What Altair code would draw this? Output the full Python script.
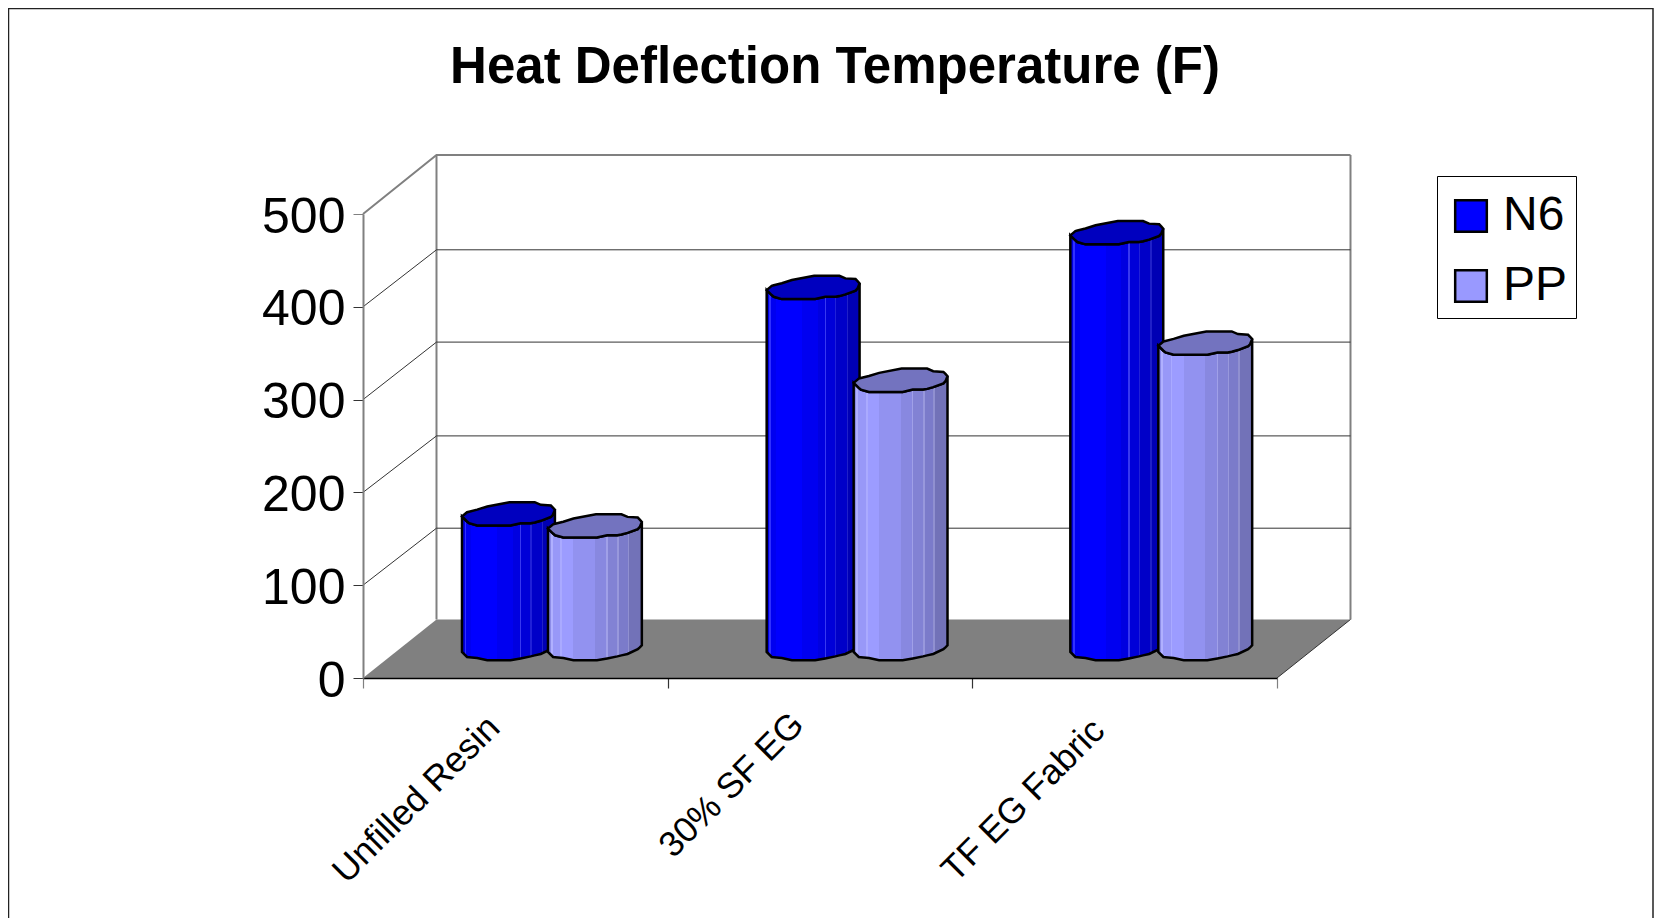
import altair as alt
import pandas as pd

# ---- chart values ----
categories = ["Unfilled Resin", "30% SF EG", "TF EG Fabric"]
n6_values = [146, 390, 449]
pp_values = [133, 290, 330]
series_names = ["N6", "PP"]
series_colors = ["#0000ff", "#9999ff"]
cap_colors = ["#0000bf", "#7373bf"]
y_ticks = [0, 100, 200, 300, 400, 500]

# ---- projection of the pseudo 3D look (pixels per unit, depth shift) ----
PX_X = 304.67
PX_Y = 0.928
DEPTH_X = 73.5 / PX_X
DEPTH_Y = 58.5 / PX_Y
BASE = 26 / PX_Y
FONT = "Liberation Sans"

# ---- cylinder outline, in px from its left corner ----
st = [0, 5, 7, 15, 25, 47, 48, 58, 68, 72, 78, 88, 90, 92]
up = [0, -4.3, -4.8, -6.9, -10, -14.3, -14.3, -14.3, -14.3, -14.3, -11.7, -11, -9, -6.7]
low = [0, 5, 6.7, 9, 9, 9, 9, 6.7, 6.7, 6, 4.3, 0.5, -1.7, -6.7]
bot = [0, 5, 5.2, 6, 8.3, 8.3, 8.3, 6.4, 4.4, 3.4, 2, -2.8, -4.7, -6.7]
left_px = {"N6": [99, 99, 98], "PP": [185, 186, 186]}
width_k = {"N6": 1.01, "PP": 1.02}

rows = []
for s, vals in zip(series_names, [n6_values, pp_values]):
    for c, v in enumerate(vals):
        for a, b, d, e in zip(st, up, low, bot):
            rows.append({
                "series": s,
                "bar": f"{s}{c}",
                "x": c + (left_px[s][c] + a * width_k[s]) / PX_X,
                "cap_hi": v + BASE - b / PX_Y,
                "cap_lo": v + BASE - d / PX_Y,
                "foot": BASE - e / PX_Y,
            })
bars = pd.DataFrame(rows)

xs = alt.Scale(domain=[0, 3], nice=False, zero=False)
ys = alt.Scale(domain=[0, 500], nice=False, zero=False)
x_axis = alt.Axis(
    values=[0, 1, 2, 3], labels=False, grid=False, tickSize=10, zindex=1,
    domainColor="#000000", domainWidth=1.5,
    tickColor=alt.expr("datum.value==0||datum.value==3?'#808080':'#333333'"), tickWidth=1.2)
y_axis = alt.Axis(
    values=y_ticks, grid=False, tickSize=10, zindex=1, labelFont=FONT, labelFontSize=50,
    labelColor="#000000", labelPadding=8, labelOffset=3, domainColor="#808080", domainWidth=2,
    tickColor=alt.expr("datum.value==500?'#808080':'#333333'"), tickWidth=1)


def X(f="x"):
    return alt.X(f"{f}:Q", scale=xs, title=None, axis=x_axis)


def Y(f):
    return alt.Y(f"{f}:Q", scale=ys, title=None, axis=y_axis, stack=None)


# ---- floor ----
floor = pd.DataFrame({
    "x": [0, DEPTH_X, 3, 3 + DEPTH_X],
    "lo": [0, 0, 0, DEPTH_Y],
    "hi": [0, DEPTH_Y, DEPTH_Y, DEPTH_Y],
})
floor_layer = alt.Chart(floor).mark_area(color="#808080").encode(x=X(), y=Y("lo"), y2="hi:Q")

# ---- walls ----
grid_nudge = {100: -1.5, 200: -2, 300: -1, 400: -1.5, 500: 0.5}
grid_rows = []
for t in y_ticks[1:]:
    back = t + DEPTH_Y + grid_nudge[t] / PX_Y
    grid_rows += [
        {"tick": t, "x": 0, "y": t},
        {"tick": t, "x": DEPTH_X, "y": back},
        {"tick": t, "x": 3 + DEPTH_X, "y": back},
    ]
grid = pd.DataFrame(grid_rows)
grid_thin = alt.Chart(grid[grid.tick < 500]).mark_line(color="#333333", strokeWidth=1).encode(
    x=X(), y=Y("y"), detail="tick:N")
grid_top = alt.Chart(grid[grid.tick == 500]).mark_line(color="#808080", strokeWidth=2).encode(
    x=X(), y=Y("y"), detail="tick:N")
wall_top = 500 + DEPTH_Y + grid_nudge[500] / PX_Y
walls = pd.DataFrame({
    "w": ["a", "a", "b", "b"],
    "x": [DEPTH_X, DEPTH_X, 3 + DEPTH_X, 3 + DEPTH_X],
    "y": [DEPTH_Y, wall_top, DEPTH_Y, wall_top],
})
wall_layer = alt.Chart(walls).mark_line(color="#808080", strokeWidth=2).encode(
    x=X(), y=Y("y"), detail="w:N")
edge = pd.DataFrame({"x": [3, 3 + DEPTH_X], "y": [0, DEPTH_Y]})
edge_layer = alt.Chart(edge).mark_line(color="#333333", strokeWidth=1).encode(x=X(), y=Y("y"))


# ---- cylinders ----
def gradient(stops):
    out = []
    for a, b, col in stops:
        out.append(alt.GradientStop(offset=a, color=col))
        out.append(alt.GradientStop(offset=b, color=col))
    return alt.LinearGradient(gradient="linear", x1=0, x2=1, y1=0, y2=0, stops=out)


n6_grad = gradient([
    (0, .03, "#0000e0"), (.03, .045, "#3030ff"), (.045, .10, "#0000f0"), (.10, .38, "#0000ff"),
    (.38, .55, "#0000f0"), (.55, .625, "#0000e0"), (.625, .64, "#3838f0"), (.64, .735, "#0000d8"),
    (.735, .75, "#2020d8"), (.75, .86, "#0000c8"), (.86, .875, "#2020c8"), (.875, 1, "#0000b4"),
])
pp_grad = gradient([
    (0, .03, "#8c8ce8"), (.03, .05, "#b0b0ff"), (.05, .13, "#9898f8"), (.13, .15, "#aaaaff"),
    (.15, .27, "#9c9cff"), (.27, .50, "#9292f0"), (.50, .62, "#8888e0"), (.62, .635, "#a0a0e8"),
    (.635, .74, "#8282d4"), (.74, .755, "#9898dc"), (.755, .85, "#7b7bca"), (.85, .865, "#9090d0"),
    (.865, 1, "#7272b8"),
])

flat = alt.Chart(bars).mark_area(strokeWidth=0).encode(
    x=X(), y=Y("cap_lo"), y2="foot:Q", detail="bar:N",
    color=alt.Color("series:N", scale=alt.Scale(domain=series_names, range=series_colors), legend=alt.Legend(
        title=" ", titleFontSize=8, titlePadding=0, orient="none", legendX=1074, legendY=-38,
        symbolType="square", symbolSize=1000, symbolOffset=2,
        symbolStrokeColor="#000000", symbolStrokeWidth=2.5, labelFont=FONT, labelFontSize=48,
        labelColor="#000000", labelLimit=200, labelOffset=8, rowPadding=22, padding=8,
        strokeColor="#000000", fillColor="#ffffff", symbolOpacity=1,
    )),
)

bar_layers = []
for s, grad, cap in zip(series_names, [n6_grad, pp_grad], cap_colors):
    d = bars[bars.series == s]
    bar_layers.append(alt.Chart(d).mark_area(fill=grad, stroke="#000000", strokeWidth=2.5).encode(
        x=X(), y=Y("cap_lo"), y2="foot:Q", detail="bar:N"))
    bar_layers.append(alt.Chart(d).mark_area(fill=cap, stroke="#000000", strokeWidth=2.5).encode(
        x=X(), y=Y("cap_hi"), y2="cap_lo:Q", detail="bar:N"))

# ---- category labels ----
label_shift_x = [-21.5, -22, -26]
label_shift_y = [44, 41, 47]
labels = pd.DataFrame({
    "x": [i + 0.5 + dx / PX_X for i, dx in enumerate(label_shift_x)],
    "y": [-dy / PX_Y for dy in label_shift_y],
    "t": categories,
})
label_layer = alt.Chart(labels).mark_text(
    font=FONT, fontSize=35.5, angle=315, align="right", baseline="middle", color="#000000"
).encode(x=X(), y=Y("y"), text="t:N")

# ---- frame ----
fr = alt.Chart(pd.DataFrame({"a": [0]}))
frame = [
    fr.mark_rule(color="#222222", strokeWidth=1.5).encode(x=alt.value(-354.5), x2=alt.value(1290), y=alt.value(-205.5)),
    fr.mark_rule(color="#222222", strokeWidth=1.5).encode(x=alt.value(-354.5), y=alt.value(-206), y2=alt.value(704)),
    fr.mark_rule(color="#222222", strokeWidth=1.5).encode(x=alt.value(1290), y=alt.value(-206), y2=alt.value(704)),
]

chart = alt.layer(
    floor_layer, wall_layer, grid_thin, grid_top, edge_layer, flat, *bar_layers, label_layer, *frame
).properties(
    width=914, height=464,
    title=alt.TitleParams("Heat Deflection Temperature (F)", font=FONT, fontSize=51, fontWeight="bold",
                          anchor="middle", dx=15, offset=-87, color="#000000"),
    autosize=alt.AutoSizeParams(type="none"),
    padding={"left": 355, "top": 206, "right": 377, "bottom": 240},
    background="#ffffff",
).configure_view(stroke=None)

chart.save("out.html", embed_options={"renderer": "svg", "actions": False})
